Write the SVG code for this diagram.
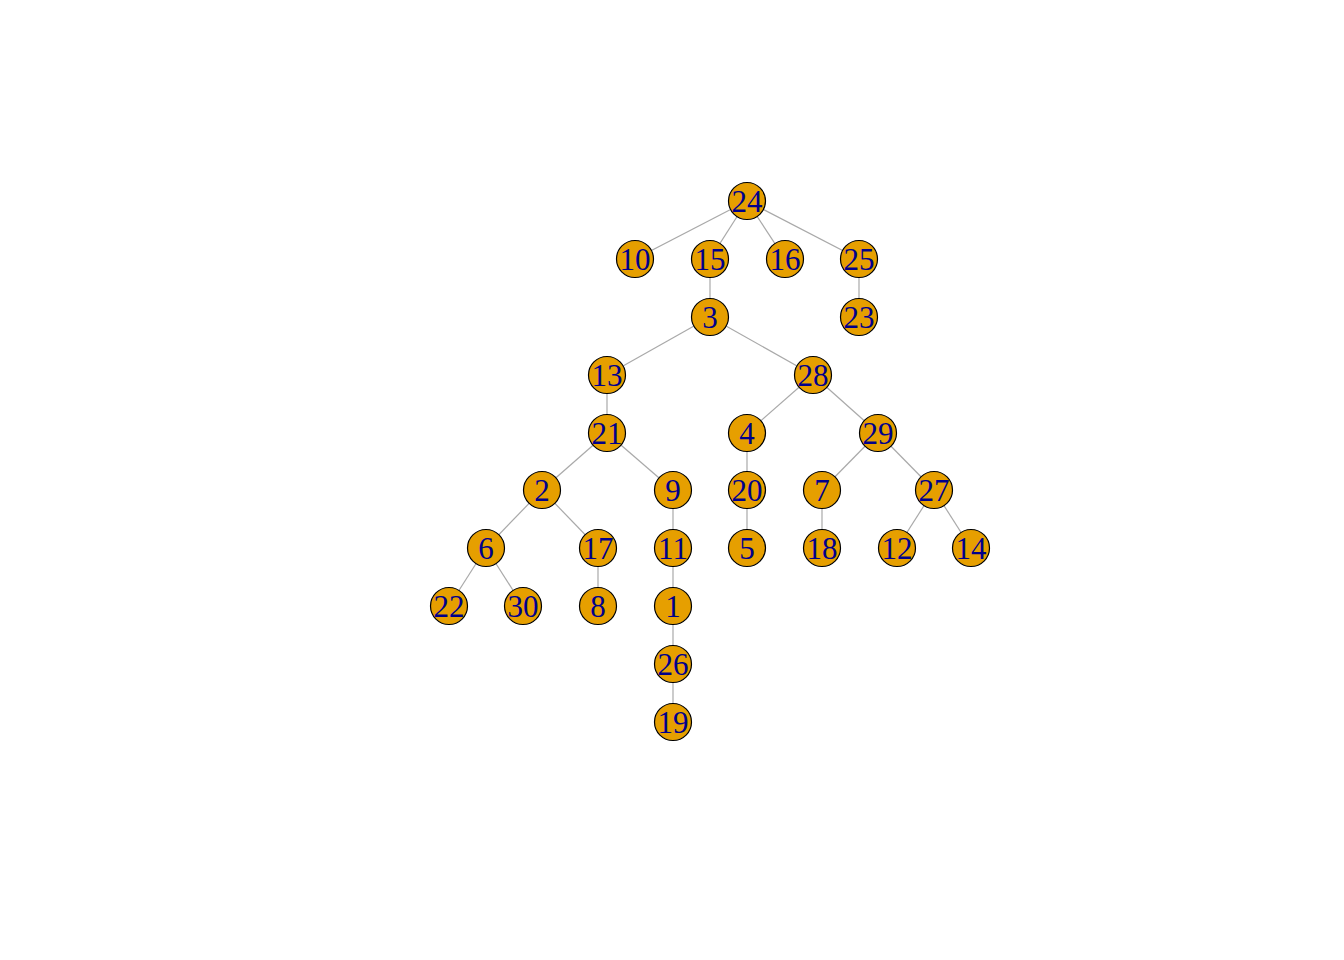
<svg xmlns="http://www.w3.org/2000/svg" width="1344" height="960" viewBox="0 0 1344 960">
<style>
.e{stroke:#A9A9A9;stroke-width:1.2;fill:none}
.n circle{fill:#E69F00;stroke:#000;stroke-width:1.2}
.n text{font-family:"Liberation Serif",serif;font-size:31px;fill:#00008B;text-anchor:middle}
</style>
<rect width="1344" height="960" fill="#fff"/>
<g id="edges" class="e">
<line x1="747" y1="201" x2="635" y2="259"/>
<line x1="747" y1="201" x2="710" y2="259"/>
<line x1="747" y1="201" x2="785" y2="259"/>
<line x1="747" y1="201" x2="859" y2="259"/>
<line x1="710" y1="259" x2="710" y2="317"/>
<line x1="859" y1="259" x2="859" y2="317"/>
<line x1="710" y1="317" x2="607" y2="375"/>
<line x1="710" y1="317" x2="813" y2="375"/>
<line x1="607" y1="375" x2="607" y2="433"/>
<line x1="813" y1="375" x2="747" y2="433"/>
<line x1="813" y1="375" x2="878" y2="433"/>
<line x1="607" y1="433" x2="542" y2="490"/>
<line x1="607" y1="433" x2="673" y2="490"/>
<line x1="747" y1="433" x2="747" y2="490"/>
<line x1="878" y1="433" x2="822" y2="490"/>
<line x1="878" y1="433" x2="934" y2="490"/>
<line x1="542" y1="490" x2="486" y2="548"/>
<line x1="542" y1="490" x2="598" y2="548"/>
<line x1="673" y1="490" x2="673" y2="548"/>
<line x1="747" y1="490" x2="747" y2="548"/>
<line x1="822" y1="490" x2="822" y2="548"/>
<line x1="934" y1="490" x2="897" y2="548"/>
<line x1="934" y1="490" x2="971" y2="548"/>
<line x1="486" y1="548" x2="449" y2="606"/>
<line x1="486" y1="548" x2="523" y2="606"/>
<line x1="598" y1="548" x2="598" y2="606"/>
<line x1="673" y1="548" x2="673" y2="606"/>
<line x1="673" y1="606" x2="673" y2="664"/>
<line x1="673" y1="664" x2="673" y2="722"/>
</g>
<g id="n24" class="n"><circle cx="747" cy="201" r="18.5"/><text x="747" y="212">24</text></g>
<g id="n10" class="n"><circle cx="635" cy="259" r="18.5"/><text x="635" y="270">10</text></g>
<g id="n15" class="n"><circle cx="710" cy="259" r="18.5"/><text x="710" y="270">15</text></g>
<g id="n16" class="n"><circle cx="785" cy="259" r="18.5"/><text x="785" y="270">16</text></g>
<g id="n25" class="n"><circle cx="859" cy="259" r="18.5"/><text x="859" y="270">25</text></g>
<g id="n3" class="n"><circle cx="710" cy="317" r="18.5"/><text x="710" y="328">3</text></g>
<g id="n23" class="n"><circle cx="859" cy="317" r="18.5"/><text x="859" y="328">23</text></g>
<g id="n13" class="n"><circle cx="607" cy="375" r="18.5"/><text x="607" y="386">13</text></g>
<g id="n28" class="n"><circle cx="813" cy="375" r="18.5"/><text x="813" y="386">28</text></g>
<g id="n21" class="n"><circle cx="607" cy="433" r="18.5"/><text x="607" y="444">21</text></g>
<g id="n4" class="n"><circle cx="747" cy="433" r="18.5"/><text x="747" y="444">4</text></g>
<g id="n29" class="n"><circle cx="878" cy="433" r="18.5"/><text x="878" y="444">29</text></g>
<g id="n2" class="n"><circle cx="542" cy="490" r="18.5"/><text x="542" y="501">2</text></g>
<g id="n9" class="n"><circle cx="673" cy="490" r="18.5"/><text x="673" y="501">9</text></g>
<g id="n20" class="n"><circle cx="747" cy="490" r="18.5"/><text x="747" y="501">20</text></g>
<g id="n7" class="n"><circle cx="822" cy="490" r="18.5"/><text x="822" y="501">7</text></g>
<g id="n27" class="n"><circle cx="934" cy="490" r="18.5"/><text x="934" y="501">27</text></g>
<g id="n6" class="n"><circle cx="486" cy="548" r="18.5"/><text x="486" y="559">6</text></g>
<g id="n17" class="n"><circle cx="598" cy="548" r="18.5"/><text x="598" y="559">17</text></g>
<g id="n11" class="n"><circle cx="673" cy="548" r="18.5"/><text x="673" y="559">11</text></g>
<g id="n5" class="n"><circle cx="747" cy="548" r="18.5"/><text x="747" y="559">5</text></g>
<g id="n18" class="n"><circle cx="822" cy="548" r="18.5"/><text x="822" y="559">18</text></g>
<g id="n12" class="n"><circle cx="897" cy="548" r="18.5"/><text x="897" y="559">12</text></g>
<g id="n14" class="n"><circle cx="971" cy="548" r="18.5"/><text x="971" y="559">14</text></g>
<g id="n22" class="n"><circle cx="449" cy="606" r="18.5"/><text x="449" y="617">22</text></g>
<g id="n30" class="n"><circle cx="523" cy="606" r="18.5"/><text x="523" y="617">30</text></g>
<g id="n8" class="n"><circle cx="598" cy="606" r="18.5"/><text x="598" y="617">8</text></g>
<g id="n1" class="n"><circle cx="673" cy="606" r="18.5"/><text x="673" y="617">1</text></g>
<g id="n26" class="n"><circle cx="673" cy="664" r="18.5"/><text x="673" y="675">26</text></g>
<g id="n19" class="n"><circle cx="673" cy="722" r="18.5"/><text x="673" y="733">19</text></g>
</svg>
